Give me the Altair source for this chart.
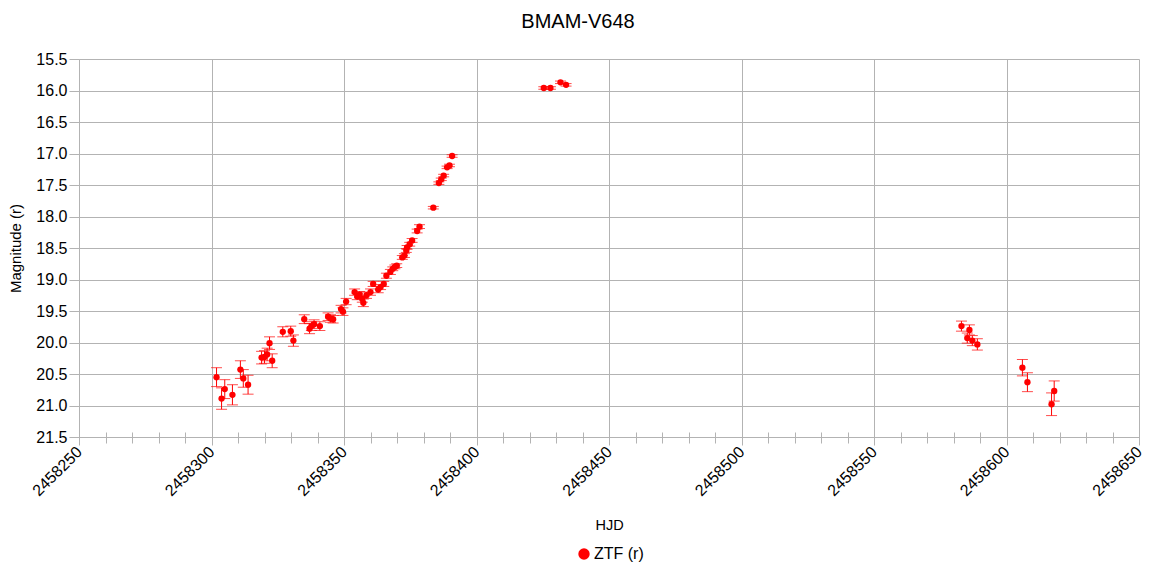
import altair as alt
import pandas as pd

# ---- data ----
hjd = [2458301.9, 2458303.8, 2458305.0, 2458307.9, 2458310.9, 2458312.0, 2458313.8,
       2458318.9, 2458320.0, 2458321.0, 2458321.9, 2458322.9, 2458326.9, 2458329.9,
       2458330.9, 2458335.0, 2458337.0, 2458337.7, 2458338.7, 2458340.9, 2458344.0,
       2458344.9, 2458345.9, 2458348.9, 2458349.6, 2458350.8, 2458354.0, 2458355.0,
       2458355.9, 2458356.9, 2458357.3, 2458358.5, 2458360.0, 2458361.0, 2458362.9,
       2458363.8, 2458365.0, 2458366.0, 2458367.5, 2458368.4, 2458369.2, 2458369.9,
       2458372.0, 2458372.8, 2458373.5, 2458373.8, 2458374.8, 2458375.7, 2458377.6,
       2458378.5, 2458383.7, 2458385.8, 2458386.7, 2458387.6, 2458388.9, 2458389.8,
       2458390.8, 2458425.4, 2458427.9, 2458431.7, 2458433.8, 2458583.0, 2458585.2,
       2458586.0, 2458587.1, 2458589.0, 2458606.0, 2458607.9, 2458617.0, 2458618.0]
mag = [20.55, 20.89, 20.74, 20.83, 20.43, 20.57, 20.67,
       20.24, 20.23, 20.19, 20.01, 20.29, 19.83, 19.82,
       19.97, 19.63, 19.78, 19.74, 19.71, 19.74, 19.59,
       19.62, 19.63, 19.47, 19.51, 19.35, 19.20, 19.27,
       19.24, 19.31, 19.37, 19.25, 19.20, 19.07, 19.16,
       19.12, 19.07, 18.94, 18.88, 18.83, 18.80, 18.78,
       18.65, 18.62, 18.54, 18.49, 18.44, 18.38, 18.23,
       18.16, 17.86, 17.47, 17.41, 17.35, 17.22, 17.19,
       17.04, 15.96, 15.96, 15.87, 15.91, 19.74, 19.93,
       19.80, 19.97, 20.03, 20.40, 20.63, 20.98, 20.77]
err = [0.15, 0.17, 0.15, 0.16, 0.14, 0.14, 0.15,
       0.10, 0.10, 0.10, 0.10, 0.11, 0.08, 0.08,
       0.09, 0.07, 0.08, 0.07, 0.07, 0.07, 0.06,
       0.06, 0.06, 0.06, 0.06, 0.05, 0.05, 0.05,
       0.05, 0.05, 0.06, 0.05, 0.05, 0.04, 0.05,
       0.04, 0.04, 0.04, 0.04, 0.03, 0.03, 0.03,
       0.03, 0.03, 0.03, 0.03, 0.03, 0.03, 0.03,
       0.03, 0.02, 0.02, 0.02, 0.02, 0.02, 0.02,
       0.02, 0.02, 0.02, 0.02, 0.02, 0.08, 0.08,
       0.08, 0.08, 0.09, 0.13, 0.15, 0.18, 0.16]
series_name = "ZTF (r)"
x_major = list(range(2458250, 2458651, 50))
x_minor = list(range(2458250, 2458651, 10))
y_ticks = [round(15.5 + 0.5 * i, 1) for i in range(13)]

df = pd.DataFrame({
    "HJD": hjd,
    "mag": mag,
    "lo": [m - e for m, e in zip(mag, err)],
    "hi": [m + e for m, e in zip(mag, err)],
    "series": [series_name] * len(hjd),
})

FONT = "Liberation Sans"
GRID = "#b3b3b3"
RED = "#ff0000"

xscale = alt.Scale(domain=[x_major[0], x_major[-1]], nice=False, zero=False)
yscale = alt.Scale(domain=[y_ticks[0], y_ticks[-1]], reverse=True, nice=False, zero=False)

y_axis = alt.Axis(values=y_ticks, format=".1f", title="Magnitude (r)", titlePadding=12,
                  grid=True, gridColor=GRID, tickSize=10, tickColor=GRID,
                  domainColor=GRID, labelFontSize=16, titleFontSize=15,
                  titleFontWeight="normal", labelColor="black", titleColor="black",
                  labelFont=FONT, titleFont=FONT, labelPadding=2)

base = alt.Chart(df)

points = base.mark_point(filled=True, shape="circle", size=40, opacity=1).encode(
    x=alt.X("HJD:Q", scale=xscale,
            axis=alt.Axis(values=x_major, format="d", labelAngle=-45, labelAlign="right",
                          labelBaseline="middle", labelPadding=4, title="HJD", titlePadding=20,
                          grid=True, gridColor=GRID, tickSize=8, tickColor=GRID,
                          domainColor=GRID, labelFontSize=16, titleFontSize=14.5,
                          titleFontWeight="normal", labelColor="black", titleColor="black",
                          labelFont=FONT, titleFont=FONT, orient="bottom")),
    y=alt.Y("mag:Q", scale=yscale, axis=y_axis, title="Magnitude (r)"),
    color=alt.Color("series:N", scale=alt.Scale(range=[RED]),
                    legend=alt.Legend(title=None, orient="none", legendX=497, legendY=487,
                                      direction="horizontal", labelFontSize=16, labelFont=FONT,
                                      labelColor="black", symbolSize=130, symbolType="circle",
                                      symbolStrokeWidth=0, labelOffset=2)),
)

bars = base.mark_rule(color=RED, strokeWidth=1).encode(
    x=alt.X("HJD:Q", scale=xscale, axis=None),
    y=alt.Y("lo:Q", scale=yscale, axis=y_axis, title="Magnitude (r)"),
    y2="hi:Q",
)
caps_lo = base.mark_tick(color=RED, orient="horizontal", size=11, thickness=1).encode(
    x=alt.X("HJD:Q", scale=xscale, axis=None),
    y=alt.Y("lo:Q", scale=yscale, axis=y_axis, title="Magnitude (r)"),
)
caps_hi = base.mark_tick(color=RED, orient="horizontal", size=11, thickness=1).encode(
    x=alt.X("HJD:Q", scale=xscale, axis=None),
    y=alt.Y("hi:Q", scale=yscale, axis=y_axis, title="Magnitude (r)"),
)
minor = base.mark_point(opacity=0).encode(
    x=alt.X("HJD:Q", scale=xscale,
            axis=alt.Axis(values=x_minor, labels=False, grid=False, domain=False, ticks=True,
                          tickSize=11, tickColor=GRID, offset=-5, orient="bottom", title=None)),
    y=alt.Y("mag:Q", scale=yscale, axis=y_axis, title="Magnitude (r)"),
)

chart = alt.layer(minor, bars, caps_lo, caps_hi, points).resolve_axis(
    x="independent"
).properties(
    width=1060,
    height=378,
    autosize=alt.AutoSizeParams(type="none"),
    padding={"left": 71, "top": 51, "right": 10, "bottom": 130},
    title=alt.TitleParams("BMAM-V648", font=FONT, fontSize=20, fontWeight="normal",
                          color="black", anchor="middle", dx=-31, offset=19),
).configure_view(stroke=None)

chart.save("out.html", embed_options={"renderer": "svg", "actions": False})
